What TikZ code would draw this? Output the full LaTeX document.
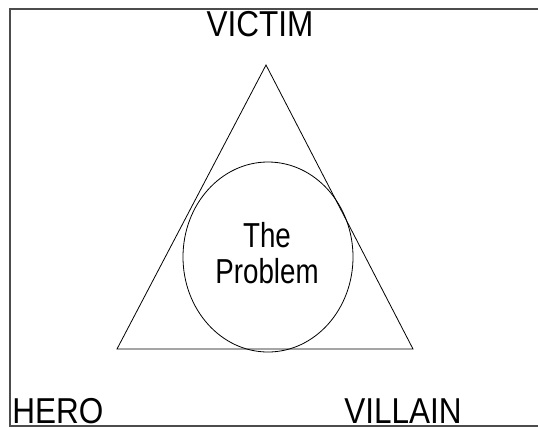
\documentclass[tikz,border=0pt]{standalone}
\usepackage{fontspec}
\setmainfont{Liberation Sans}
\usetikzlibrary{shapes.geometric}
\newcommand{\squeeze}[2]{\scalebox{#1}[1]{#2}}
\begin{document}
\begin{tikzpicture}[x=0.75pt,y=-0.75pt,
  role/.style={font=\fontsize{27}{30}\selectfont,inner sep=0pt,anchor=base},
  core/.style={font=\fontsize{26}{27}\selectfont,inner sep=0pt,anchor=base},
  edge/.style={line width=0.6pt}]
\useasboundingbox (0,0) rectangle (538,429);
\clip (0,0) rectangle (538,429);
% frame, open on the right
\draw[line width=0.9pt,black!70] (560,9) -- (10,9) -- (10,426) -- (560,426);
% triangle and the problem
\coordinate (apex) at (266,65);\coordinate (baseL) at (117,349);\coordinate (baseR) at (413,349);
\draw[edge] (apex) -- (baseL) -- (baseR) -- cycle;
\node[draw,ellipse,edge,inner sep=0pt,minimum width=127.5pt,minimum height=142.5pt] (problem) at (268,257) {};
\node[core] (the) at (267,247) {\squeeze{0.8}{The}};
\node[core] (prob) at (267,283) {\squeeze{0.8}{Problem}};
% roles
\node[role] (victim) at (260,36) {\squeeze{0.875}{VICTIM}};
\node[role,anchor=base west] (hero) at (12,423) {\squeeze{0.875}{HERO}};
\node[role,anchor=base west] (villain) at (344,423) {\squeeze{0.875}{VILLAIN}};
\end{tikzpicture}
\end{document}
